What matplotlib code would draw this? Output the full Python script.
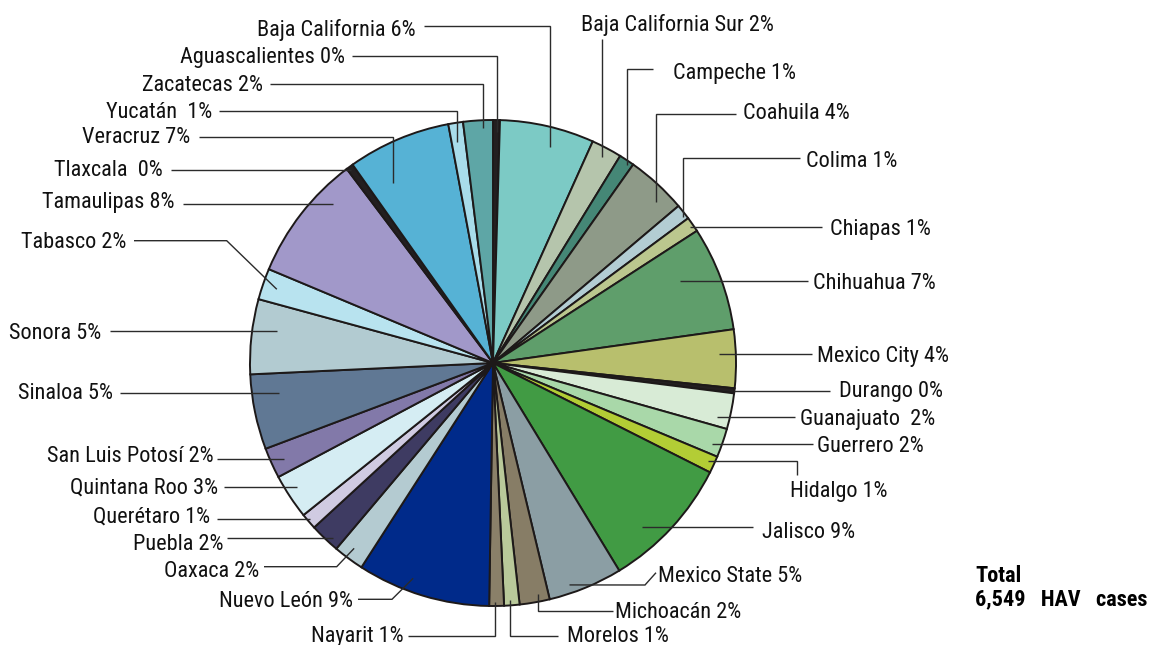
import matplotlib.pyplot as plt
import numpy as np
from matplotlib import font_manager
from matplotlib.font_manager import FontProperties

# Hepatitis A cases by state (total 6,549), clockwise from 12 o'clock
labels = ['Aguascalientes 0%', 'Baja California 6%', 'Baja California Sur 2%', 'Campeche 1%',
          'Coahuila 4%', 'Colima 1%', 'Chiapas 1%', 'Chihuahua 7%', 'Mexico City 4%',
          'Durango 0%', 'Guanajuato  2%', 'Guerrero 2%', 'Hidalgo 1%', 'Jalisco 9%',
          'Mexico State 5%', 'Michoacán 2%', 'Morelos 1%', 'Nayarit 1%', 'Nuevo León 9%',
          'Oaxaca 2%', 'Puebla 2%', 'Querétaro 1%', 'Quintana Roo 3%', 'San Luis Potosí 2%',
          'Sinaloa 5%', 'Sonora 5%', 'Tabasco 2%', 'Tamaulipas 8%', 'Tlaxcala  0%',
          'Veracruz 7%', 'Yucatán  1%', 'Zacatecas 2%']
cases = [30, 411, 133, 67, 264, 67, 66, 454, 254, 22, 156, 126, 74, 581, 324, 131, 67, 64,
         580, 134, 132, 70, 196, 133, 327, 326, 136, 551, 31, 449, 64, 129]
colors = ['#231f20', '#7ccac5', '#b5c5ac', '#458776', '#8e9a88', '#b3cdd3', '#bbc78e',
          '#5f9e6b', '#b8bf6d', '#231f20', '#d8ebd6', '#a9d8a9', '#b3cd35', '#419b44',
          '#8b9ea4', '#877d66', '#b9c99a', '#8a8069', '#002a8a', '#b4cbd1', '#3e3b62',
          '#d0cbe2', '#d5edf3', '#8279a9', '#607894', '#b2cbd1', '#b8e3ef', '#a198c9',
          '#231f20', '#56b2d5', '#a8dcea', '#5ea6a6']
total_text = ['Total', '6,549   HAV   cases']

# label layout in picture pixels (y from top)
# t = position inside the wedge (0..1 clockwise), r = fraction of radius
# kind: h = horizontal, v = vertical then horizontal, hv = horizontal then down, e = elbow
layout = [
    dict(t=.56, r=.95, kind='v', ly=56, lx=352, tx=345, ty=62.5, ha='right'),
    dict(t=.58, r=.92, kind='v', ly=25.7, lx=424, tx=416, ty=36, ha='right'),
    dict(t=.51, r=.96, kind='v', ly=39.3, lx=None, tx=580.7, ty=30.7, ha='left'),
    dict(t=.67, r=.983, kind='v', ly=69, lx=652.7, tx=672.7, ty=79, ha='left'),
    dict(t=.69, r=.943, kind='v', ly=114, lx=736, tx=742.7, ty=119.3, ha='left'),
    dict(t=.71, r=.986, kind='v', ly=158.3, lx=800, tx=806, ty=166.7, ha='left'),
    dict(t=.54, r=.985, kind='h', ly=227, lx=821.7, tx=830, ty=235, ha='left'),
    dict(t=.37, r=.84, kind='h', ly=280.7, lx=808.3, tx=813.3, ty=289.3, ha='left'),
    dict(t=.40, r=.932, kind='h', ly=353.3, lx=811.7, tx=816.7, ty=361.7, ha='left'),
    dict(t=.46, r=1.0, kind='h', ly=390.7, lx=830, tx=839.3, ty=397.5, ha='left'),
    dict(t=.75, r=.947, kind='h', ly=417.3, lx=795, tx=800, ty=425, ha='left'),
    dict(t=.66, r=.96, kind='h', ly=444, lx=812.7, tx=817.3, ty=452.3, ha='left'),
    dict(t=.44, r=.973, kind='hv', ly=475, lx=797.3, tx=790, ty=497.3, ha='left'),
    dict(t=.66, r=.913, kind='h', ly=527.3, lx=753.3, tx=761.7, ty=537.5, ha='left'),
    dict(t=.69, r=.966, kind='e', elbow=(645, 585), ly=572.7, lx=656, tx=658, ty=581.7, ha='left'),
    dict(t=.35, r=.968, kind='v', ly=610.7, lx=613.3, tx=615, ty=617.7, ha='left'),
    dict(t=.60, r=.978, kind='v', ly=636, lx=558.3, tx=567.3, ty=641.7, ha='left'),
    dict(t=.60, r=.982, kind='v', ly=636, lx=407.7, tx=403.3, ty=641.7, ha='right'),
    dict(t=.61, r=.945, kind='e', elbow=(392, 599.3), ly=599.3, lx=358, tx=353.3, ty=606.7, ha='right'),
    dict(t=.55, r=.953, kind='e', elbow=(336.7, 566.7), ly=566.7, lx=264, tx=259.3, ty=577.3, ha='right'),
    dict(t=.32, r=.977, kind='h', ly=538.3, lx=227.3, tx=223.3, ty=550, ha='right'),
    dict(t=.56, r=.99, kind='h', ly=519, lx=217.3, tx=210, ty=522.7, ha='right'),
    dict(t=.60, r=.953, kind='h', ly=486.7, lx=224, tx=218.3, ty=493.3, ha='right'),
    dict(t=.45, r=.946, kind='h', ly=459, lx=217.3, tx=213.3, ty=462.3, ha='right'),
    dict(t=.71, r=.888, kind='h', ly=392.7, lx=120, tx=112.7, ty=399, ha='right'),
    dict(t=.62, r=.90, kind='h', ly=330.7, lx=110, tx=101, ty=339, ha='right'),
    dict(t=.48, r=.94, kind='e', elbow=(226.7, 240.7), ly=240.7, lx=134, tx=126, ty=247.7, ha='right'),
    dict(t=.73, r=.927, kind='h', ly=204, lx=182.7, tx=174, ty=208.3, ha='right'),
    dict(t=.30, r=.986, kind='h', ly=170.7, lx=170.7, tx=162.7, ty=176, ha='right'),
    dict(t=.25, r=.849, kind='v', ly=136.7, lx=199.3, tx=190, ty=143.3, ha='right'),
    dict(t=.37, r=.923, kind='v', ly=110.7, lx=219, tx=212.7, ty=118.3, ha='right'),
    dict(t=.65, r=.967, kind='v', ly=84, lx=270, tx=263, ty=90.7, ha='right'),
]

W, H = 1152, 645
CX, CY, R = 493, 363, 243


def narrow_font(bold=False):
    # look for any installed narrow / condensed sans face
    prefer = ['Liberation Sans Narrow', 'Roboto Condensed', 'Noto Sans', 'DejaVu Sans',
              'Open Sans', 'Noto Sans Condensed', 'Open Sans Condensed', 'DejaVu Sans Condensed']
    found = []
    for f in font_manager.fontManager.ttflist:
        narrow = ('Narrow' in f.name or 'Condensed' in f.name
                  or str(f.stretch) in ('condensed', 'semi-condensed', '87.5', '75'))
        semi = 'Semi' in f.name or 'semi' in str(f.stretch) or 'Semi' in f.fname
        isbold = f.weight in ('bold', 700, '700')
        if narrow and not semi and f.style == 'normal' and isbold == bold:
            found.append(f)
    for name in prefer:
        for f in found:
            if f.name == name:
                return FontProperties(fname=f.fname)
    return None


fp = narrow_font()
fpb = narrow_font(bold=True)
if fp is not None:
    fs = 16
else:
    fp, fs = FontProperties(family='Liberation Sans'), 13.5
if fpb is None:
    fpb = FontProperties(family='Liberation Sans', weight='bold')
    fsb = 14
else:
    fsb = 16

fig = plt.figure(figsize=(W / 100, H / 100), dpi=100)
ax = fig.add_axes([0, 0, 1, 1])
wedges, _ = ax.pie(cases, colors=colors, startangle=90, counterclock=False,
                   center=(CX, H - CY), radius=R,
                   wedgeprops=dict(edgecolor='#1d1919', linewidth=1.4))
ax.set_xlim(0, W)
ax.set_ylim(0, H)
ax.set_aspect('equal')
ax.axis('off')

line_kw = dict(color='#2b2b2b', lw=1.0, solid_capstyle='butt', solid_joinstyle='miter')

for w, lab, L in zip(wedges, labels, layout):
    a = np.radians(w.theta2 - L['t'] * (w.theta2 - w.theta1))
    axx = CX + L['r'] * R * np.cos(a)
    ayy = (H - CY) + L['r'] * R * np.sin(a)
    ly = H - L['ly']
    if L['kind'] == 'h':
        xs, ys = [axx, L['lx']], [ayy, ayy]
    elif L['kind'] == 'v':
        xs, ys = [axx, axx], [ayy, ly]
        if L['lx'] is not None:
            xs.append(L['lx'])
            ys.append(ly)
    elif L['kind'] == 'hv':
        xs, ys = [axx, L['lx'], L['lx']], [ayy, ayy, ly]
    else:
        ex, ey = L['elbow']
        xs, ys = [axx, ex, L['lx']], [ayy, H - ey, ly]
    ax.plot(xs, ys, **line_kw)
    ax.text(L['tx'], H - L['ty'], lab, ha=L['ha'], va='baseline',
            fontproperties=fp, fontsize=fs, color='#111111')

ax.text(975, H - 581.7, total_text[0], ha='left', va='baseline',
        fontproperties=fpb, fontsize=fsb, color='black')
ax.text(975, H - 605, total_text[1], ha='left', va='baseline',
        fontproperties=fpb, fontsize=fsb, color='black')

fig.savefig('out.png', dpi=100)
